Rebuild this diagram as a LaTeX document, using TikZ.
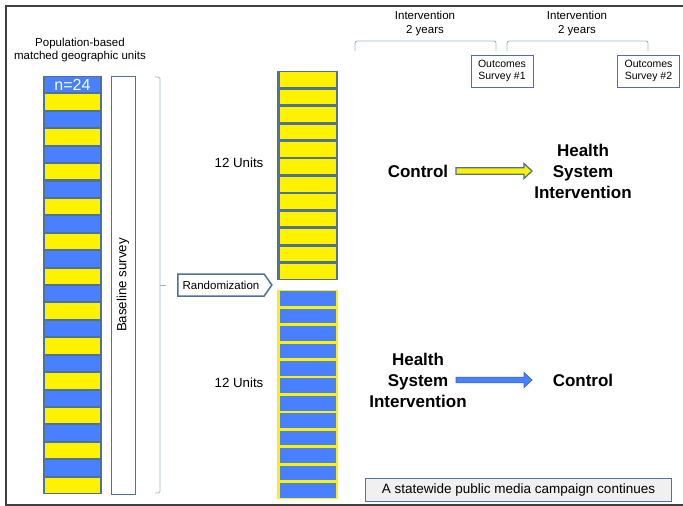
\documentclass[tikz,border=0pt]{standalone}
\usepackage{fontspec}
\setmainfont{Liberation Sans}
\usetikzlibrary{calc,positioning,shapes.symbols}

\definecolor{frameblue}{RGB}{79,114,152}
\definecolor{cellblue}{RGB}{72,128,255}
\definecolor{arrowblue}{RGB}{58,108,205}
\definecolor{bracegray}{RGB}{160,180,205}
\definecolor{notegray}{RGB}{240,240,240}
\definecolor{edgegray}{RGB}{64,64,64}

\begin{document}
\begin{tikzpicture}[x=1pt,y=-1pt,
    every node/.style={inner sep=0pt, outer sep=0pt},
    smalltxt/.style={font=\fontsize{11.5}{13.5}\selectfont, align=center},
    midtxt/.style={font=\fontsize{13.3}{15}\selectfont, align=center},
    bigtxt/.style={font=\fontsize{17}{21}\selectfont\bfseries, align=center},
    leftcell/.style={minimum width=55pt, minimum height=15.4pt},
    unitcell/.style={minimum width=56pt, minimum height=14.7pt},
    brace/.style={draw=bracegray, line width=0.9pt, rounded corners=2pt},
    survey/.style={draw=frameblue, line width=0.9pt, minimum width=62pt, minimum height=32pt,
        font=\fontsize{10.5}{12.5}\selectfont, align=center},
    fatarrow/.style={line width=1.3pt, line join=miter}
    ]
    \useasboundingbox (0,0) rectangle (683,506);
    % outer frame
    \draw[edgegray, line width=1.6pt] (683,6) -- (6,6) -- (6,505) -- (683,505);

    % matched units
    \node[smalltxt] (poptitle) at (80,50) {Population-based\\matched geographic units};
    \node[fill=frameblue, minimum width=59pt, minimum height=418pt] (leftcol) at (72.5,285) {};
    \foreach \i in {1,3,...,23}
        \node[leftcell, fill=cellblue] (u\i) at (72.5,{76+(\i-0.5)*17.417}) {};
    \foreach \i in {2,4,...,24}
        \node[leftcell, fill=yellow] (u\i) at (72.5,{76+(\i-0.5)*17.417}) {};
    \node[font=\fontsize{16}{16}\selectfont, text=white] (ncount) at (u1) {n=24};

    % baseline survey
    \node[draw=frameblue, line width=0.9pt, minimum width=24pt, minimum height=418pt] (base) at (123,285) {};
    \node[midtxt, rotate=90] (basetxt) at (base) {Baseline survey};
    \draw[brace, rounded corners=1.5pt] (155,77) -- (160,77) -- (160,493) -- (155,493);
    \draw[brace] (160,285) -- (166,285);

    % randomization
    \node[signal, signal to=east, signal pointer angle=110, draw=frameblue, line width=1.5pt,
        smalltxt, minimum width=94pt, minimum height=22pt] (rand) at (221,285) {Randomization};

    % two arms
    \node[fill=frameblue, minimum width=61.5pt, minimum height=209pt] (topcol) at (307.5,175.5) {};
    \foreach \i in {1,...,12}
        \node[unitcell, fill=yellow] (a\i) at (307.5,{71+(\i-0.5)*17.417}) {};
    \node[fill=yellow, minimum width=61.5pt, minimum height=209pt] (botcol) at (307.5,394.5) {};
    \foreach \i in {1,...,12}
        \node[unitcell, fill=cellblue] (b\i) at (307.5,{290+(\i-0.5)*17.417}) {};
    \node[midtxt] (unitsA) at (239,163) {12 Units};
    \node[midtxt] (unitsB) at (239,383) {12 Units};

    % timeline
    \node[smalltxt] (intA) at (425,23.5) {Intervention\\2 years};
    \node[smalltxt] (intB) at (577,23.5) {Intervention\\2 years};
    \draw[brace] (355,51) -- (355,41) -- (496,41) -- (496,51);
    \draw[brace] (507,51) -- (507,41) -- (648,41) -- (648,51);
    \node[survey] (surv1) at (502,71) {Outcomes\\Survey \#1};
    \node[survey] (surv2) at (648.5,71) {Outcomes\\Survey \#2};

    % arm one
    \node[bigtxt] (ctrlA) at (418,171) {Control};
    \node[bigtxt] (hsiA) at (583,171) {Health\\System\\Intervention};
    \coordinate (arrAs) at ($(ctrlA.center)+(38,0)$);
    \coordinate (arrAe) at ($(hsiA.center)+(-51,0)$);
    \draw[fatarrow, draw=frameblue, fill=yellow] ($(arrAs)+(0,-3.2)$) -- ($(arrAe)+(-8,-3.2)$)
        -- ($(arrAe)+(-8,-7.5)$) -- (arrAe) -- ($(arrAe)+(-8,7.5)$) -- ($(arrAe)+(-8,3.2)$)
        -- ($(arrAs)+(0,3.2)$) -- cycle;

    % arm two
    \node[bigtxt] (hsiB) at (418,380) {Health\\System\\Intervention};
    \node[bigtxt] (ctrlB) at (583,380) {Control};
    \coordinate (arrBs) at ($(hsiB.center)+(38,0)$);
    \coordinate (arrBe) at ($(ctrlB.center)+(-51,0)$);
    \draw[fatarrow, line width=0.8pt, draw=arrowblue, fill=cellblue] ($(arrBs)+(0,-2.8)$) -- ($(arrBe)+(-8,-2.8)$)
        -- ($(arrBe)+(-8,-7.5)$) -- (arrBe) -- ($(arrBe)+(-8,7.5)$) -- ($(arrBe)+(-8,2.8)$)
        -- ($(arrBs)+(0,2.8)$) -- cycle;

    % media campaign
    \node[draw=frameblue, fill=notegray, line width=0.9pt, minimum width=306pt, minimum height=23pt,
        font=\fontsize{13.5}{15}\selectfont] (media) at (518.5,490) {A statewide public media campaign continues};
\end{tikzpicture}
\end{document}
